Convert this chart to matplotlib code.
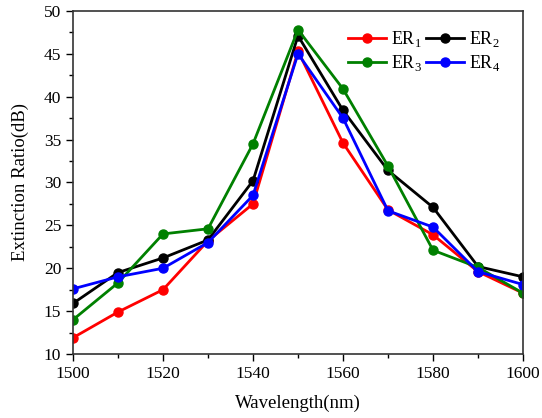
import matplotlib
matplotlib.use("Agg")
import matplotlib.pyplot as plt
from matplotlib.ticker import MultipleLocator

plt.rcParams['font.family'] = ['Liberation Serif', 'DejaVu Serif']
plt.rcParams['mathtext.fontset'] = 'custom'
plt.rcParams['mathtext.rm'] = 'Liberation Serif'

wavelength = [1500, 1510, 1520, 1530, 1540, 1550, 1560, 1570, 1580, 1590, 1600]
er1 = [11.9, 14.9, 17.5, 23.2, 27.5, 45.3, 34.6, 26.8, 23.9, 19.6, 17.1]
er2 = [15.9, 19.5, 21.2, 23.3, 30.2, 47.1, 38.4, 31.4, 27.1, 20.2, 19.0]
er3 = [14.0, 18.3, 24.0, 24.6, 34.5, 47.8, 40.9, 31.9, 22.1, 20.1, 17.1]
er4 = [17.6, 19.0, 20.0, 23.0, 28.5, 45.0, 37.5, 26.7, 24.8, 19.6, 18.1]
labels = ['ER$_1$', 'ER$_2$', 'ER$_3$', 'ER$_4$']
colors = ['#ff0000', '#000000', '#008000', '#0000ff']

fig = plt.figure(figsize=(5.42, 4.18), dpi=100)
ax = fig.add_axes([0.1347, 0.153, 0.8303, 0.821])
handles = []
for ys, lab, c in zip([er1, er2, er3, er4], labels, colors):
    h, = ax.plot(wavelength, ys, color=c, lw=2, marker='o', ms=6.5, label=lab)
    handles.append(h)

ax.set_xlim(1500, 1600)
ax.set_ylim(10, 50)
ax.xaxis.set_major_locator(MultipleLocator(20))
ax.xaxis.set_minor_locator(MultipleLocator(10))
ax.yaxis.set_major_locator(MultipleLocator(5))
ax.yaxis.set_minor_locator(MultipleLocator(2.5))
ax.tick_params(which='both', direction='out', top=False, right=False, labelsize=12.5)
ax.tick_params(which='major', length=5, width=1)
ax.tick_params(which='minor', length=3, width=1)
for s in ax.spines.values():
    s.set_linewidth(1.2)
    s.set_color('#333333')
ax.set_xlabel('Wavelength(nm)', fontsize=13.5, labelpad=9)
ax.set_ylabel('Extinction Ratio(dB)', fontsize=13.5, labelpad=11)
order = [0, 2, 1, 3]
ax.legend([handles[i] for i in order], [labels[i] for i in order],
          ncol=2, loc='upper right', frameon=False, fontsize=13,
          handlelength=2.1, columnspacing=0.2, handletextpad=0.3,
          labelspacing=0.25, borderaxespad=0.6, bbox_to_anchor=(0.99, 1.0))
fig.savefig('out.png', dpi=100)
